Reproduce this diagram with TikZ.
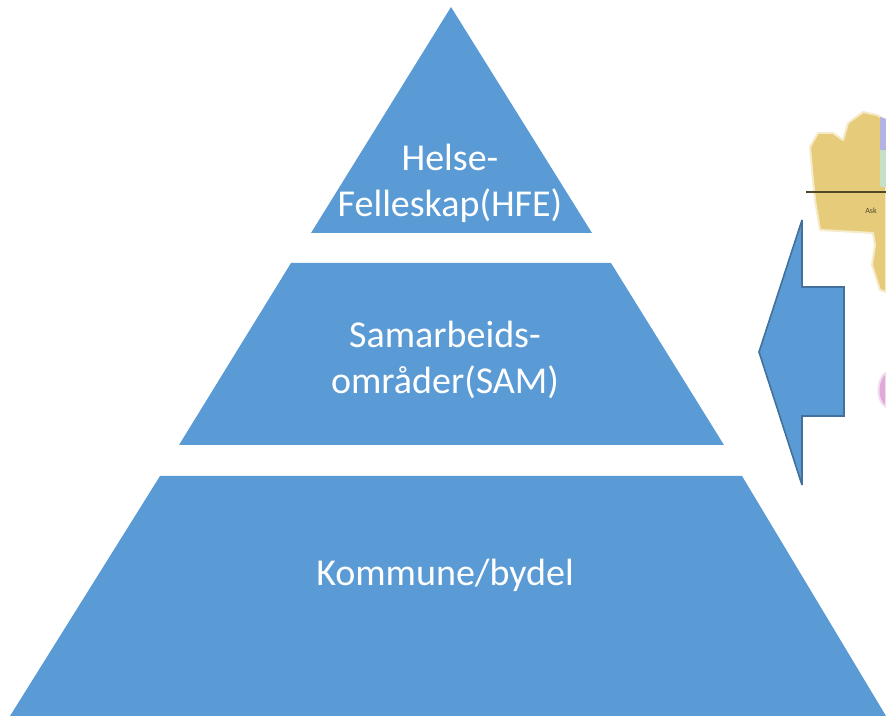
\documentclass[tikz,border=0pt]{standalone}
\usepackage{fontspec}
\setmainfont{Carlito}
\definecolor{pyramidblue}{HTML}{5B9BD5}
\definecolor{arrowedge}{HTML}{41719C}
\definecolor{mapyellow}{HTML}{E6CC7A}
\definecolor{mappink}{HTML}{DFA9D8}
\tikzset{
    level/.style={text=white, align=center, font=\fontsize{28.5}{34.5}\selectfont},
}

\begin{document}
\begin{tikzpicture}[x=0.75pt, y=-0.75pt]
    % Fix the page to the size of the reference
    \useasboundingbox (0,0) rectangle (886,716);

    % Map behind the arrow
    \fill[mapyellow, draw=mapyellow!40, line width=1.5pt, line join=round] (810,147) -- (818,133) -- (833,133) -- (843,140) -- (848,123) -- (863,112)
        -- (877,115) -- (886,120) -- (886,292) -- (880,290) -- (872,265) -- (875,245) -- (873,233) -- (820,230) -- (815,200) -- (812,170) -- cycle;
    \fill[gray!50!blue!40] (880,117) -- (886,119) -- (886,150) -- (880,150) -- cycle;
    \fill[green!30!gray!35] (880,150) -- (886,150) -- (886,187) -- (880,187) -- cycle;
    \draw[black!65!mapyellow, line width=1.5pt] (806,192) -- (886,192);
    \node[font=\fontsize{6}{7}\selectfont, text=black!65!mapyellow] (mapname) at (871,211) {Ask};
    \fill[mappink, draw=mappink!40, line width=1.5pt] (886,373) .. controls (878,376) and (874,400) .. (886,407) -- cycle;

    % Pyramid levels
    \fill[pyramidblue] (451,7) -- (592,233) -- (311,233) -- cycle;
    \fill[pyramidblue] (291,263) -- (611,263) -- (724,445) -- (179,445) -- cycle;
    \fill[pyramidblue] (160,476) -- (742,476) -- (886,716) -- (10,716) -- cycle;

    % Arrow pointing to the middle level
    \draw[fill=pyramidblue, draw=arrowedge, line width=1.2pt, miter limit=2] (759,352) -- (802,220) -- (802,287) -- (844,287)
        -- (844,416) -- (802,416) -- (802,485) -- cycle;

    % Labels
    \node[level] (hfe) at (450,183) {Helse-\\Felleskap(HFE)};
    \node[level] (sam) at (445,360) {Samarbeids-\\områder(SAM)};
    \node[level] (kommune) at (445,575) {Kommune/bydel};
\end{tikzpicture}
\end{document}
